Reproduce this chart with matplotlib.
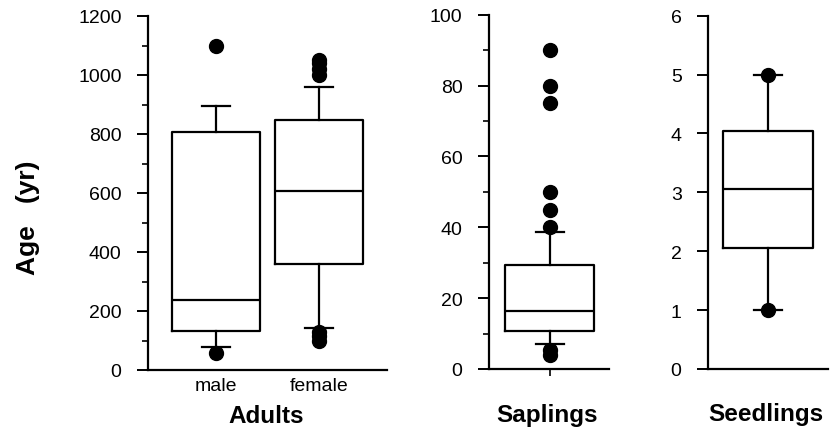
import matplotlib
matplotlib.use("Agg")
import matplotlib.pyplot as plt
from matplotlib.ticker import MultipleLocator

plt.rcParams['font.family'] = ['Liberation Sans', 'DejaVu Sans']

# ---- data ----
adult_groups = ["male", "female"]
adult_q1 = [132, 359]
adult_med = [238, 607]
adult_q3 = [807, 849]
adult_whislo = [78, 141]
adult_whishi = [896, 960]
adult_fliers = [[1100, 57], [1000, 1020, 1040, 1052, 130, 115, 100]]

sap_q1 = [10.7]
sap_med = [16.4]
sap_q3 = [29.4]
sap_whislo = [7.1]
sap_whishi = [38.8]
sap_fliers = [[90, 80, 75, 50, 45, 40, 5.5, 4]]

seed_q1 = [2.05]
seed_med = [3.05]
seed_q3 = [4.05]
seed_whislo = [1]
seed_whishi = [5]
seed_fliers = [[5, 1]]

panel_titles = ["Adults", "Saplings", "Seedlings"]
y_label = "Age   (yr)"


def stats(q1, med, q3, lo, hi, fl):
    return [dict(q1=a, med=b, q3=c, whislo=d, whishi=e, fliers=f)
            for a, b, c, d, e, f in zip(q1, med, q3, lo, hi, fl)]


fig = plt.figure(figsize=(8.37, 4.31), dpi=100)
W, H = 837, 431


def add_ax(l, r, b, t):
    return fig.add_axes([l / W, 1 - b / H, (r - l) / W, (b - t) / H])


ax1 = add_ax(148, 387, 371, 17)
ax2 = add_ax(489, 609, 370, 15.7)
ax3 = add_ax(708, 828, 370, 16.7)

lw = 1.6
common = dict(
    showfliers=True,
    boxprops=dict(color='black', linewidth=lw),
    medianprops=dict(color='black', linewidth=lw),
    whiskerprops=dict(color='black', linewidth=lw),
    capprops=dict(color='black', linewidth=lw),
    flierprops=dict(marker='o', markerfacecolor='black', markeredgecolor='black',
                    markersize=10, linestyle='none'),
)

ax1.bxp(stats(adult_q1, adult_med, adult_q3, adult_whislo, adult_whishi, adult_fliers),
        positions=[1, 2], widths=0.85, capwidths=0.28, **common)
ax2.bxp(stats(sap_q1, sap_med, sap_q3, sap_whislo, sap_whishi, sap_fliers),
        positions=[1], widths=1.0, capwidths=0.31, **common)
ax3.bxp(stats(seed_q1, seed_med, seed_q3, seed_whislo, seed_whishi, seed_fliers),
        positions=[1], widths=1.0, capwidths=0.31, **common)

ax1.set_xlim(0.34, 2.66)
ax1.set_ylim(0, 1200)
ax1.yaxis.set_major_locator(MultipleLocator(200))
ax1.yaxis.set_minor_locator(MultipleLocator(100))

ax2.set_xlim(0.315, 1.663)
ax2.set_ylim(0, 100)
ax2.yaxis.set_major_locator(MultipleLocator(20))
ax2.yaxis.set_minor_locator(MultipleLocator(10))

ax3.set_xlim(0.333, 1.667)
ax3.set_ylim(0, 6)
ax3.yaxis.set_major_locator(MultipleLocator(1))

for ax in (ax1, ax2, ax3):
    for s in ('top', 'right'):
        ax.spines[s].set_visible(False)
    for s in ('left', 'bottom'):
        ax.spines[s].set_linewidth(1.6)
    ax.tick_params(axis='y', which='major', direction='out', length=8, width=1.4,
                   labelsize=14, pad=11)
    ax.tick_params(axis='y', which='minor', direction='out', length=4, width=1.2)
    ax.set_facecolor('none')

ax1.set_xticks([1, 2])
ax1.set_xticklabels(adult_groups, fontsize=14)
ax1.tick_params(axis='x', length=0, pad=5)
ax2.set_xticks([1])
ax2.set_xticklabels([""])
ax2.tick_params(axis='x', length=5, width=1.2)
ax3.set_xticks([])

title_x = [266, 547, 766]
title_base = [423, 422, 421]
for t, x, yb in zip(panel_titles, title_x, title_base):
    fig.text(x / W, 1 - yb / H, t, fontsize=17.5, fontweight='bold',
             ha='center', va='baseline')

fig.text(28 / W, 1 - 218 / H, y_label, rotation=90, fontsize=19, fontweight='bold',
         ha='center', va='center')

fig.savefig("out.png", dpi=100)
